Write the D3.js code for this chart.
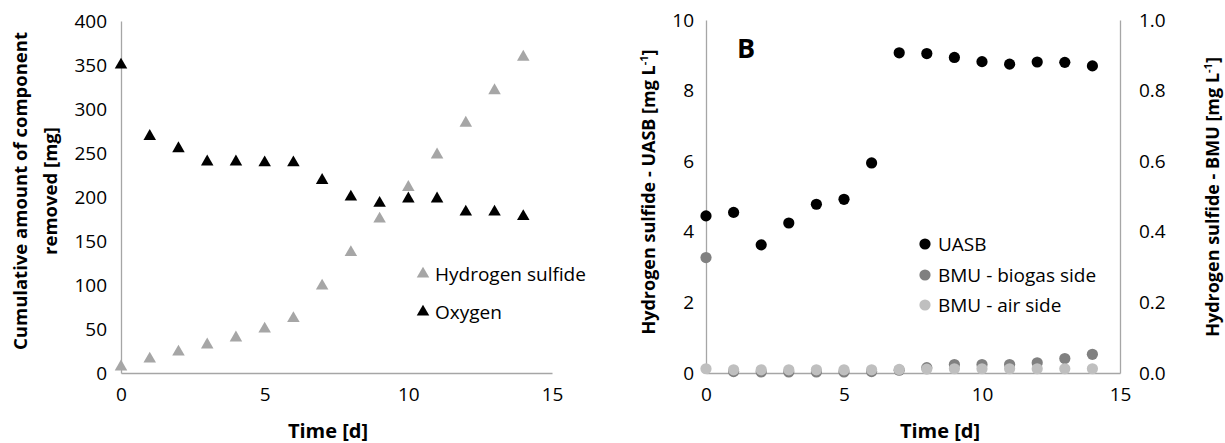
<!DOCTYPE html>
<html>
<head>
    <script src="https://cdn.jsdelivr.net/npm/d3@7"></script>
    <style>
        body { margin: 0; background: #fff; }
        text { font-family: "Open Sans", sans-serif; }
    </style>
</head>

<body>
<div id="chart"></div>

<script>

    // panel A: cumulative amount removed [mg]
    var daysA = [0, 1, 2, 3, 4, 5, 6, 7, 8, 9, 10, 11, 12, 13, 14];
    var hydrogenSulfide = [7, 16, 24, 32, 40, 50, 62, 99, 137, 175, 211, 248, 284, 321, 359];
    var oxygen = [350, 269, 255, 240, 240, 239, 239, 219, 200, 193, 198, 198, 183, 183, 178];

    // panel B: hydrogen sulfide concentration [mg/L]
    var daysB = [0, 1, 2, 3, 4, 5, 6, 7, 8, 9, 10, 11, 12, 13, 14];
    var uasb = [4.45, 4.55, 3.63, 4.25, 4.78, 4.92, 5.95, 9.07, 9.05, 8.94, 8.82, 8.75, 8.81, 8.8, 8.7];
    var bmuBiogas = [0.327, 0.004, 0.003, 0.003, 0.003, 0.003, 0.004, 0.008, 0.015, 0.024, 0.024, 0.024, 0.029, 0.041, 0.053];
    var bmuAir = [0.012, 0.009, 0.009, 0.009, 0.009, 0.009, 0.009, 0.01, 0.011, 0.012, 0.012, 0.012, 0.012, 0.012, 0.012];

    var ticksTime = [0, 5, 10, 15];
    var ticksA = [0, 50, 100, 150, 200, 250, 300, 350, 400];
    var ticksUasb = [0, 2, 4, 6, 8, 10];
    var ticksBmu = [0, 0.2, 0.4, 0.6, 0.8, 1.0];

    var width = 1225;
    var height = 443;
    var axisColor = '#a6a6a6';
    var tickFont = 19;

    var svg = d3.select('#chart').append('svg')
        .attr('width', width)
        .attr('height', height);

    function styleAxis(g) {
        g.select('.domain').attr('stroke', axisColor).attr('stroke-width', 1.3);
        g.selectAll('text')
            .attr('fill', '#000')
            .style('font-family', '"Open Sans", sans-serif')
            .style('font-size', tickFont + 'px');
    }

    // ---------- panel A ----------
    var xA = d3.scaleLinear().domain([0, 15]).range([121, 552]);
    var yA = d3.scaleLinear().domain([0, 400]).range([373, 21]);

    svg.append('g')
        .attr('transform', 'translate(' + xA(0) + ',0)')
        .call(d3.axisLeft(yA).tickValues(ticksA).tickSize(0).tickPadding(14))
        .call(styleAxis);

    svg.append('g')
        .attr('transform', 'translate(0,' + yA(0) + ')')
        .call(d3.axisBottom(xA).tickValues(ticksTime).tickSize(0).tickPadding(15))
        .call(styleAxis);

    var tri = d3.symbol().type(d3.symbolTriangle).size(68);

    svg.append('g').selectAll('path.h2s')
        .data(daysA)
        .enter()
        .append('path')
        .attr('class', 'h2s')
        .attr('d', tri)
        .attr('fill', '#a6a6a6')
        .attr('transform', function(d, i) { return 'translate(' + xA(d) + ',' + yA(hydrogenSulfide[i]) + ')'; });

    svg.append('g').selectAll('path.o2')
        .data(daysA)
        .enter()
        .append('path')
        .attr('class', 'o2')
        .attr('d', tri)
        .attr('fill', '#000')
        .attr('transform', function(d, i) { return 'translate(' + xA(d) + ',' + yA(oxygen[i]) + ')'; });

    var legendA = [
        { name: 'Hydrogen sulfide', color: '#a6a6a6', y: 274 },
        { name: 'Oxygen', color: '#000', y: 312 }
    ];
    var legA = svg.append('g').selectAll('g')
        .data(legendA)
        .enter()
        .append('g')
        .attr('transform', function(d) { return 'translate(423,' + d.y + ')'; });
    legA.append('path').attr('d', tri).attr('fill', function(d) { return d.color; });
    legA.append('text')
        .attr('x', 12)
        .attr('dy', '0.35em')
        .style('font-size', tickFont + 'px')
        .text(function(d) { return d.name; });

    svg.append('text')
        .attr('x', 328)
        .attr('y', 438)
        .attr('text-anchor', 'middle')
        .style('font-size', '20px')
        .style('font-weight', 'bold')
        .text('Time [d]');

    var titleA = svg.append('text')
        .attr('transform', 'translate(0,191) rotate(-90)')
        .attr('text-anchor', 'middle')
        .style('font-size', '18.5px')
        .style('font-weight', 'bold');
    titleA.append('tspan').attr('x', 0).attr('y', 27).text('Cumulative amount of component');
    titleA.append('tspan').attr('x', 0).attr('y', 57).text('removed [mg]');

    // ---------- panel B ----------
    var xB = d3.scaleLinear().domain([0, 15]).range([706, 1120]);
    var yB = d3.scaleLinear().domain([0, 10]).range([373, 20]);
    var yB2 = d3.scaleLinear().domain([0, 1]).range([373, 20]);

    svg.append('g')
        .attr('transform', 'translate(' + xB(0) + ',0)')
        .call(d3.axisLeft(yB).tickValues(ticksUasb).tickSize(0).tickPadding(12))
        .call(styleAxis);

    svg.append('g')
        .attr('transform', 'translate(' + xB(15) + ',0)')
        .call(d3.axisRight(yB2).tickValues(ticksBmu).tickSize(0).tickPadding(19).tickFormat(d3.format('.1f')))
        .call(styleAxis);

    svg.append('g')
        .attr('transform', 'translate(0,' + yB(0) + ')')
        .call(d3.axisBottom(xB).tickValues(ticksTime).tickSize(0).tickPadding(15))
        .call(styleAxis);

    function dots(values, scale, color) {
        svg.append('g').selectAll('circle')
            .data(daysB)
            .enter()
            .append('circle')
            .attr('r', 5.6)
            .attr('fill', color)
            .attr('cx', function(d) { return xB(d); })
            .attr('cy', function(d, i) { return scale(values[i]); });
    }
    dots(uasb, yB, '#000');
    dots(bmuBiogas, yB2, '#808080');
    dots(bmuAir, yB2, '#bfbfbf');

    var legendB = [
        { name: 'UASB', color: '#000', y: 244 },
        { name: 'BMU - biogas side', color: '#808080', y: 275 },
        { name: 'BMU - air side', color: '#bfbfbf', y: 305 }
    ];
    var legB = svg.append('g').selectAll('g')
        .data(legendB)
        .enter()
        .append('g')
        .attr('transform', function(d) { return 'translate(925,' + d.y + ')'; });
    legB.append('circle').attr('r', 5.6).attr('fill', function(d) { return d.color; });
    legB.append('text')
        .attr('x', 13)
        .attr('dy', '0.35em')
        .style('font-size', tickFont + 'px')
        .text(function(d) { return d.name; });

    svg.append('text')
        .attr('x', 746)
        .attr('y', 58)
        .attr('text-anchor', 'middle')
        .style('font-size', '27px')
        .style('font-weight', 'bold')
        .text('B');

    svg.append('text')
        .attr('x', 940)
        .attr('y', 438)
        .attr('text-anchor', 'middle')
        .style('font-size', '20px')
        .style('font-weight', 'bold')
        .text('Time [d]');

    function unitTitle(x, y, label) {
        var t = svg.append('text')
            .attr('transform', 'translate(' + x + ',' + y + ') rotate(-90)')
            .attr('text-anchor', 'middle')
            .style('font-size', '18px')
            .style('font-weight', 'bold');
        t.append('tspan').text(label + ' [mg L');
        t.append('tspan').attr('baseline-shift', 'super').style('font-size', '11px').text('-1');
        t.append('tspan').text(']');
    }
    unitTitle(655, 192, 'Hydrogen sulfide - UASB');
    unitTitle(1219, 197, 'Hydrogen sulfide - BMU');

</script>
</body>
</html>
